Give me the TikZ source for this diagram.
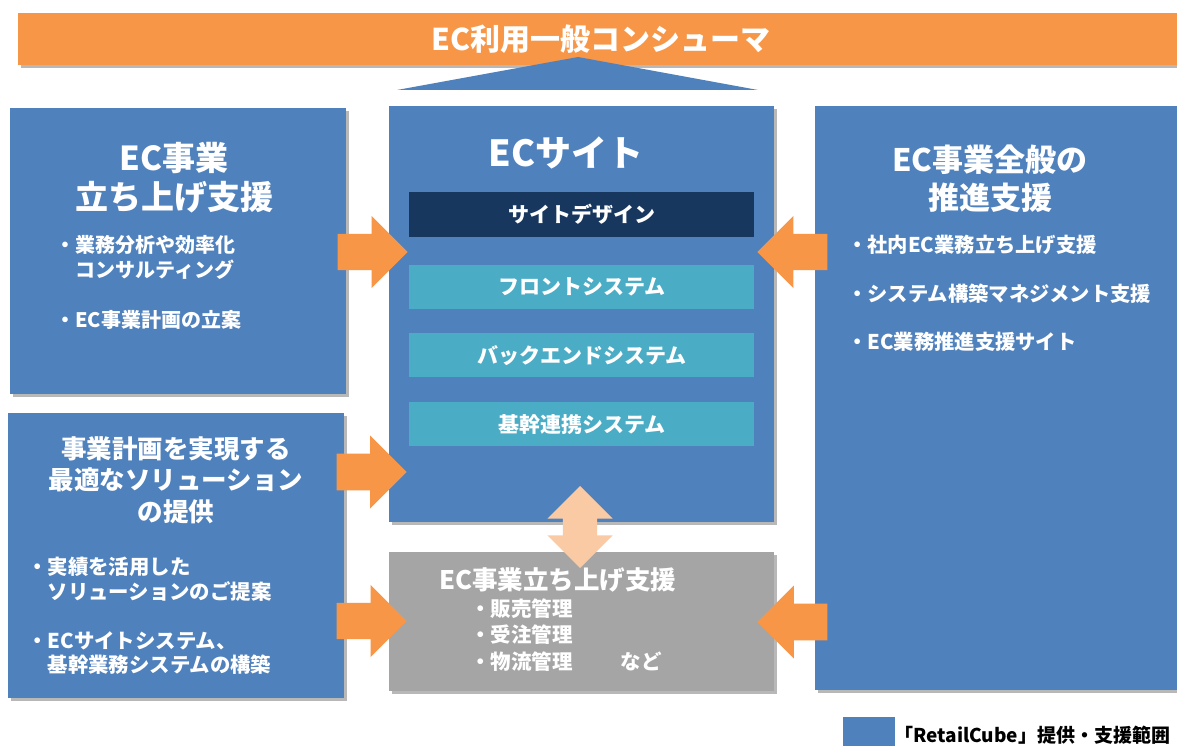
\documentclass[tikz,border=0pt]{standalone}
\usepackage{fontspec}
\setmainfont{Noto Sans CJK JP}
\usetikzlibrary{shapes.arrows,shadows}
\definecolor{ecblue}{HTML}{4F81BD}
\definecolor{ecorange}{HTML}{F79646}
\definecolor{ecnavy}{HTML}{17375E}
\definecolor{ecteal}{HTML}{4BACC6}
\definecolor{ecgray}{HTML}{A5A5A5}
\definecolor{ecpeach}{RGB}{250,202,165}
\tikzset{
  shad/.style={drop shadow={shadow xshift=3pt,shadow yshift=-3pt,opacity=0.28,fill=black}},
  panel/.style={fill=ecblue,draw=none,anchor=north west,inner sep=0pt,shad},
  graypanel/.style={fill=ecgray,draw=none,anchor=north west,inner sep=0pt,shad},
  subbox/.style={draw=none,anchor=north west,inner sep=0pt,minimum width=345pt,
    text=white,font=\bfseries\fontsize{21}{24}\selectfont},
  title/.style={text=white,inner sep=0pt,align=center},
  bullet/.style={text=white,inner sep=0pt,align=left,anchor=west},
  rarrow/.style={single arrow,fill=ecorange,draw=none,inner sep=0pt,
    text width=0pt,text height=18pt,text depth=18pt,anchor=tip,
    minimum height=70pt,single arrow head extend=18pt},
  darrow/.style={double arrow,fill=ecpeach,draw=none,inner sep=0pt,
    text width=0pt,text height=17pt,text depth=17pt,
    minimum height=82pt,minimum width=65pt,double arrow head extend=15.5pt},
}
\begin{document}
\begin{tikzpicture}[x=1pt,y=-1pt]
\clip (0,0) rectangle (1177,746);
\fill[white] (0,0) rectangle (1177,746);
% top banner
\node[fill=ecorange,anchor=north west,inner sep=0pt,minimum width=1166pt,minimum height=52pt,
  text=white,font=\bfseries\fontsize{30}{34}\selectfont,shad] (cons) at (18,13) {EC利用一般コンシューマ};
\fill[ecblue] (397,90) -- (578,57) -- (758,90) -- cycle;
% panels
\node[panel,minimum width=336pt,minimum height=286pt] (lt) at (10,108) {};
\node[panel,minimum width=336pt,minimum height=285pt] (lb) at (8,413) {};
\node[panel,minimum width=385pt,minimum height=416pt] (ec) at (389,106) {};
\node[panel,minimum width=380pt,minimum height=584pt] (rt) at (815,106) {};
\node[graypanel,minimum width=385pt,minimum height=139pt] (gr) at (389,552) {};
% sub boxes of EC site
\node[subbox,fill=ecnavy,minimum height=45pt] (design) at (409,192) {サイトデザイン};
\node[subbox,fill=ecteal,minimum height=44pt] (front) at (409,265) {フロントシステム};
\node[subbox,fill=ecteal,minimum height=44pt] (back) at (409,333) {バックエンドシステム};
\node[subbox,fill=ecteal,minimum height=44pt] (core) at (409,402) {基幹連携システム};
% arrows
\node[darrow,rotate=90] (dv) at (580,527) {};
\node[rarrow,minimum width=72pt] (a1) at (408,252) {};
\node[rarrow,minimum width=73pt] (a2) at (407,472) {};
\node[rarrow,minimum width=72pt] (a3) at (407,621) {};
\node[rarrow,minimum width=72pt,rotate=180] (a4) at (757,252) {};
\node[rarrow,minimum width=73pt,rotate=180] (a5) at (757,622) {};
% titles
\node[title,font=\bfseries\fontsize{33}{39}\selectfont] (ltt) at (174,178) {EC事業\\立ち上げ支援};
\node[title,font=\bfseries\fontsize{36}{40}\selectfont] (ect) at (566,153) {ECサイト};
\node[title,font=\bfseries\fontsize{31}{38}\selectfont] (rtt) at (990,179) {EC事業全般の\\推進支援};
\node[title,font=\bfseries\fontsize{25.5}{31.5}\selectfont] (lbt) at (176,480) {事業計画を実現する\\最適なソリューション\\の提供};
% bullets
\node[bullet,font=\bfseries\fontsize{20}{25}\selectfont] (lt1) at (55,257.5) {・業務分析や効率化\\　コンサルティング};
\node[bullet,font=\bfseries\fontsize{20}{25}\selectfont] (lt2) at (55,320) {・EC事業計画の立案};
\node[bullet,font=\bfseries\fontsize{20.4}{25}\selectfont] (lb1) at (27,579.5) {・実績を活用した\\　ソリューションのご提案};
\node[bullet,font=\bfseries\fontsize{20.4}{24}\selectfont] (lb2) at (27,653.5) {・ECサイトシステム、\\　基幹業務システムの構築};
\node[bullet,font=\bfseries\fontsize{20.3}{25}\selectfont] (rt1) at (847,245) {・社内EC業務立ち上げ支援};
\node[bullet,font=\bfseries\fontsize{20.3}{25}\selectfont] (rt2) at (847,294) {・システム構築マネジメント支援};
\node[bullet,font=\bfseries\fontsize{20.3}{25}\selectfont] (rt3) at (847,342) {・EC業務推進支援サイト};
% gray box text
\node[bullet,font=\bfseries\fontsize{25.5}{30}\selectfont] (grt) at (439,580) {EC事業立ち上げ支援};
\node[bullet,font=\bfseries\fontsize{20.5}{26.5}\selectfont] (grb) at (470,635) {・販売管理\\・受注管理\\・物流管理　　\hspace{7pt}など};
% legend
\node[fill=ecblue,anchor=north west,inner sep=0pt,minimum width=52pt,minimum height=40pt] (legsq) at (843,717) {};
\node[anchor=west,inner sep=0pt,font=\bfseries\fontsize{19}{22}\selectfont,text=black] (legtx) at (894,735) {「RetailCube」提供・支援範囲};
\end{tikzpicture}
\end{document}
